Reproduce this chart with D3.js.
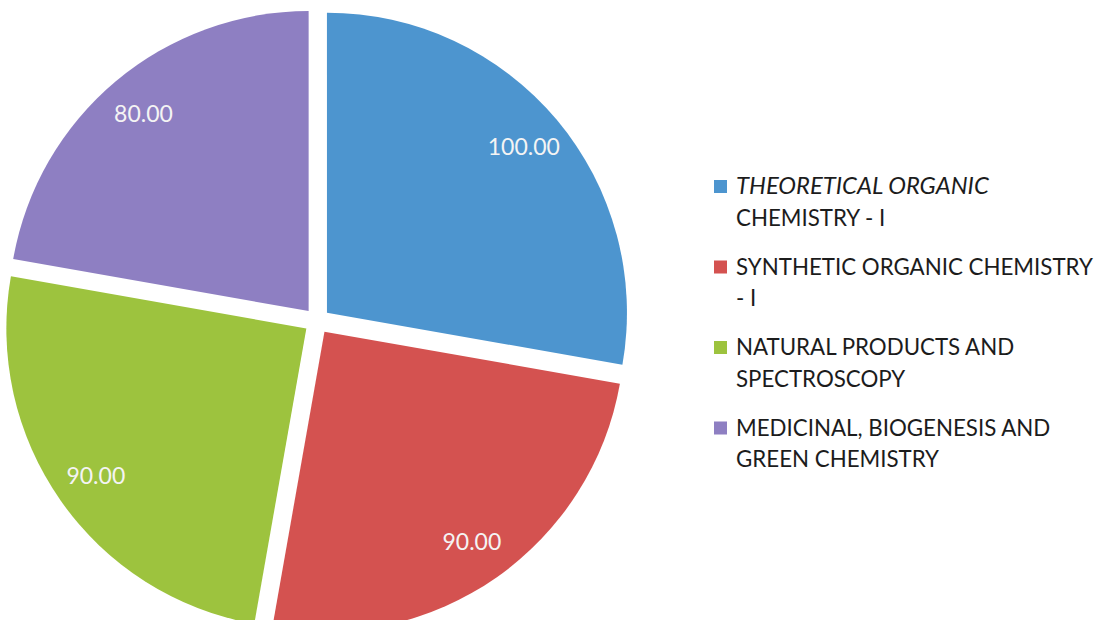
<!DOCTYPE html>
<html>
<head>
<meta charset="utf-8">
<script src="https://cdn.jsdelivr.net/npm/d3@7"></script>
<style>
  html, body { margin: 0; padding: 0; background: #ffffff; }
  svg { display: block; }
</style>
</head>
<body>
<svg id="chart" width="1096" height="620"></svg>
<script>
// ---- data ----
const categories = [
  "THEORETICAL ORGANIC CHEMISTRY - I",
  "SYNTHETIC ORGANIC CHEMISTRY - I",
  "NATURAL PRODUCTS AND SPECTROSCOPY",
  "MEDICINAL, BIOGENESIS AND GREEN CHEMISTRY"
];
const values = [100, 90, 90, 80];
const valueLabels = ["100.00", "90.00", "90.00", "80.00"];
const legendLines = [
  ["THEORETICAL ORGANIC", "CHEMISTRY - I"],
  ["SYNTHETIC ORGANIC CHEMISTRY", "- I"],
  ["NATURAL PRODUCTS AND", "SPECTROSCOPY"],
  ["MEDICINAL, BIOGENESIS AND", "GREEN CHEMISTRY"]
];
const colors = ["#4d95cf", "#d45250", "#9dc33e", "#8e7fc2"];

// ---- layout ----
const svg = d3.select("#chart");
const cx = 317, cy = 321, radius = 300, explode = 13, labelR = 270;

const pie = d3.pie().sort(null).value(d => d)
  .startAngle(0).endAngle(2 * Math.PI);
const arcs = pie(values);
const arcGen = d3.arc().innerRadius(0).outerRadius(radius);

const g = svg.append("g").attr("transform", `translate(${cx},${cy})`);

const slices = g.selectAll("g.slice").data(arcs).enter().append("g")
  .attr("class", "slice")
  .attr("transform", d => {
    const a = (d.startAngle + d.endAngle) / 2;
    return `translate(${Math.sin(a) * explode},${-Math.cos(a) * explode})`;
  });

slices.append("path")
  .attr("d", arcGen)
  .attr("fill", (d, i) => colors[i]);

g.selectAll("text.val").data(arcs).enter().append("text")
  .attr("class", "val")
  .attr("x", d => Math.sin((d.startAngle + d.endAngle) / 2) * labelR)
  .attr("y", d => -Math.cos((d.startAngle + d.endAngle) / 2) * labelR + 8)
  .attr("text-anchor", "middle")
  .attr("font-family", "Lato, 'Open Sans', sans-serif")
  .attr("font-size", 23)
  .attr("fill", "#f4f4f4")
  .text((d, i) => valueLabels[i]);

// ---- legend ----
const legend = svg.append("g").attr("transform", "translate(714,194)");
const entry = legend.selectAll("g.entry").data(legendLines).enter().append("g")
  .attr("class", "entry")
  .attr("transform", (d, i) => `translate(0,${i * 80.5})`);

entry.append("rect")
  .attr("x", 0).attr("y", -14)
  .attr("width", 13).attr("height", 13)
  .attr("fill", (d, i) => colors[i]);

entry.each(function(lines, i) {
  const t = d3.select(this).append("text")
    .attr("font-family", "Lato, 'Open Sans', sans-serif")
    .attr("font-size", 22.3)
    .attr("fill", "#1c1c1c");
  lines.forEach((ln, j) => {
    const italic = (i === 0 && j === 0);
    t.append("tspan")
      .attr("x", 22)
      .attr("y", j * 31.5)
      .attr("font-style", italic ? "italic" : "normal")
      .attr("font-size", italic ? 23.8 : 22.3)
      .text(ln);
  });
});
</script>
</body>
</html>
